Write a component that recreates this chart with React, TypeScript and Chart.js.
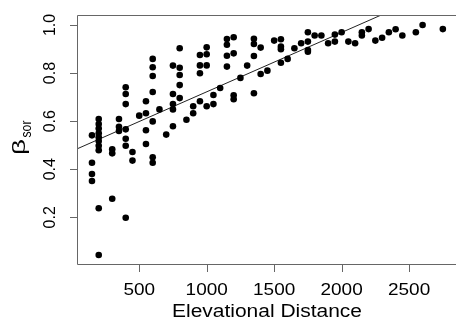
import React, { useEffect, useRef } from "react";
import { Chart, registerables } from "chart.js";

Chart.register(...registerables);

// Elevational distance (x) and beta_sor dissimilarity (y)
const elevDist: number[] = [
  150, 150, 150, 150,
  200, 200, 200, 200, 200, 200, 200, 200, 200, 200,
  300, 300, 300,
  350, 350, 350,
  400, 400, 400, 400, 400, 400, 400,
  450, 450,
  500,
  550, 550, 550, 550,
  600, 600, 600, 600, 600, 600, 600,
  650,
  700,
  750, 750, 750, 750, 750,
  800, 800, 800, 800, 800,
  850,
  900, 900,
  950, 950, 950, 950,
  1000, 1000, 1000, 1000,
  1050, 1050,
  1100,
  1150, 1150, 1150, 1150,
  1200, 1200, 1200, 1200,
  1250,
  1300,
  1350, 1350, 1350, 1350,
  1400, 1400,
  1450,
  1500,
  1550, 1550, 1550, 1550,
  1600,
  1650,
  1700,
  1750, 1750, 1750, 1750,
  1800,
  1850,
  1900,
  1950, 1950,
  2000,
  2050,
  2100,
  2150, 2150,
  2200,
  2250,
  2300,
  2350,
  2400,
  2450,
  2550,
  2600,
  2750,
];

const betaSor: number[] = [
  0.541, 0.427, 0.380, 0.351,
  0.609, 0.588, 0.569, 0.550, 0.533, 0.517, 0.498, 0.479, 0.238, 0.043,
  0.483, 0.466, 0.277,
  0.609, 0.577, 0.559,
  0.741, 0.713, 0.671, 0.566, 0.527, 0.498, 0.198,
  0.472, 0.436,
  0.623,
  0.683, 0.633, 0.562, 0.505,
  0.859, 0.824, 0.788, 0.721, 0.599, 0.450, 0.427,
  0.649,
  0.544,
  0.831, 0.713, 0.671, 0.649, 0.579,
  0.903, 0.822, 0.792, 0.750, 0.696,
  0.606,
  0.662, 0.633,
  0.875, 0.832, 0.799, 0.683,
  0.907, 0.878, 0.832, 0.662,
  0.709, 0.671,
  0.738,
  0.942, 0.918, 0.872, 0.827,
  0.949, 0.882, 0.708, 0.691,
  0.780,
  0.831,
  0.943, 0.921, 0.871, 0.716,
  0.906, 0.796,
  0.810,
  0.935,
  0.941, 0.910, 0.899, 0.843,
  0.859,
  0.903,
  0.924,
  0.970, 0.931, 0.896, 0.889,
  0.956,
  0.956,
  0.924,
  0.960, 0.931,
  0.970,
  0.931,
  0.924,
  0.970, 0.956,
  0.983,
  0.935,
  0.947,
  0.970,
  0.982,
  0.956,
  0.970,
  1.0,
  0.983,
];

// Fitted regression line: y = intercept + slope * x
const fitIntercept = 0.475;
const fitSlope = 0.000247;
const fitXRange: number[] = [0, 3000];

const xTicks: number[] = [500, 1000, 1500, 2000, 2500];
const yTicks: number[] = [0.2, 0.4, 0.6, 0.8, 1.0];
const yTickLabels: string[] = ["0.2", "0.4", "0.6", "0.8", "1.0"];

const FONT = '"Liberation Sans", Arial, sans-serif';

const rPlotPlugin = {
  id: "rPlot",
  afterDraw(chart: any) {
    const ctx: CanvasRenderingContext2D = chart.ctx;
    const { left, right, top, bottom } = chart.chartArea;
    const xs = chart.scales.x;
    const ys = chart.scales.y;
    ctx.save();
    // box
    ctx.strokeStyle = "#666";
    ctx.lineWidth = 1;
    ctx.beginPath();
    ctx.rect(left + 0.5, top - 0.5, right - left - 1, bottom - top);
    ctx.stroke();
    // x ticks
    ctx.beginPath();
    xTicks.forEach((v) => {
      const px = Math.round(xs.getPixelForValue(v)) + 0.5;
      ctx.moveTo(px, bottom - 0.5);
      ctx.lineTo(px, bottom + 7);
    });
    // y ticks
    yTicks.forEach((v) => {
      const py = Math.round(ys.getPixelForValue(v)) + 0.5;
      ctx.moveTo(left + 0.5, py);
      ctx.lineTo(left - 7, py);
    });
    ctx.stroke();

    ctx.fillStyle = "#000";
    // x tick labels
    ctx.font = `16.5px ${FONT}`;
    ctx.textAlign = "center";
    ctx.textBaseline = "alphabetic";
    xTicks.forEach((v) => {
      const px = xs.getPixelForValue(v);
      ctx.save();
      ctx.translate(px, 295);
      ctx.scale(1.15, 1);
      ctx.fillText(String(v), 0, 0);
      ctx.restore();
    });
    // x title
    ctx.font = `17.5px ${FONT}`;
    const title = "Elevational Distance";
    const tw = ctx.measureText(title).width;
    ctx.save();
    ctx.translate((left + right) / 2, 316.5);
    ctx.scale(190 / tw, 1);
    ctx.fillText(title, 0, 0);
    ctx.restore();

    // y tick labels (rotated)
    ctx.font = `16px ${FONT}`;
    yTicks.forEach((v, i) => {
      const py = ys.getPixelForValue(v);
      ctx.save();
      ctx.translate(55, py);
      ctx.rotate(-Math.PI / 2);
      ctx.fillText(yTickLabels[i], 0, 0);
      ctx.restore();
    });

    // y title: beta with subscript "sor"
    ctx.save();
    ctx.translate(25, 155);
    ctx.rotate(-Math.PI / 2);
    ctx.textAlign = "left";
    ctx.font = `16px ${FONT}`;
    const bw = ctx.measureText("\u03B2").width;
    ctx.save();
    ctx.scale(16 / bw, 1.1);
    ctx.fillText("\u03B2", 0, 0);
    ctx.restore();
    ctx.font = `13px ${FONT}`;
    const sw = ctx.measureText("sor").width;
    ctx.save();
    ctx.translate(17.5, 6);
    ctx.scale(17 / sw, 1.1);
    ctx.fillText("sor", 0, 0);
    ctx.restore();
    ctx.restore();

    ctx.restore();
  },
};

export default function App() {
  const ref = useRef<HTMLCanvasElement | null>(null);
  useEffect(() => {
    document.body.style.margin = "0";
    const canvas = ref.current;
    if (!canvas) return;
    const points = elevDist.map((x, i) => ({ x, y: betaSor[i] }));
    const fitLine = fitXRange.map((x) => ({ x, y: fitIntercept + fitSlope * x }));
    const chart = new Chart(canvas, {
      type: "scatter",
      data: {
        datasets: [
          {
            type: "scatter",
            data: points,
            pointRadius: 3.3,
            pointBackgroundColor: "#000",
            pointBorderWidth: 0,
            pointBorderColor: "#000",
          },
          {
            type: "line",
            data: fitLine,
            borderColor: "#222",
            borderWidth: 1,
            pointRadius: 0,
            fill: false,
            tension: 0,
          } as any,
        ],
      },
      options: {
        responsive: false,
        maintainAspectRatio: false,
        animation: false,
        devicePixelRatio: 1,
        layout: { padding: { left: 77, top: 16, right: 0, bottom: 57 } },
        plugins: {
          legend: { display: false },
          tooltip: { enabled: false },
        },
        scales: {
          x: { type: "linear", display: false, min: 39, max: 2855 },
          y: { type: "linear", display: false, min: 0.0017, max: 1.0374 },
        },
      },
      plugins: [rPlotPlugin],
    });
    return () => chart.destroy();
  }, []);
  return (
    <div
      style={{
        position: "fixed",
        left: 0,
        top: 0,
        width: 456,
        height: 322,
        overflow: "hidden",
        background: "#fff",
      }}
    >
      <canvas ref={ref} width={461} height={322} style={{ display: "block" }} />
    </div>
  );
}
